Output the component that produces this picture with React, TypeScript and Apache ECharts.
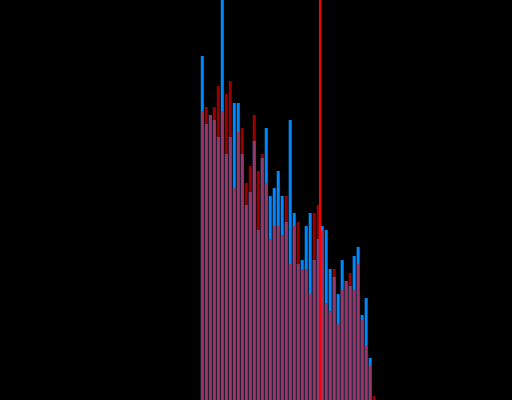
import React, { useEffect, useRef } from "react";
import * as echarts from "echarts";

// bin index of the first bar; bars occupy consecutive bins
const firstBin = 50;
const binCount = 128;
const markerPosition = 79.875;

const blueValues = [344, 276, 285, 280, 263, 405, 246, 263, 297, 297, 246, 195, 208, 259, 170, 242, 272, 204, 212, 229, 204, 178, 280, 187, 136, 140, 174, 187, 140, 161, 174, 170, 131, 123, 106, 140, 119, 114, 144, 153, 85, 102, 42, 0];
const redValues = [289, 293, 285, 293, 314, 289, 306, 319, 212, 268, 272, 217, 234, 285, 229, 246, 217, 161, 174, 174, 165, 204, 136, 174, 178, 131, 131, 106, 187, 195, 170, 97, 89, 131, 76, 110, 119, 127, 110, 136, 80, 55, 34, 4];

export default function App() {
  const ref = useRef<HTMLDivElement>(null);
  useEffect(() => {
    document.body.style.margin = "0";
    document.body.style.background = "#000";
    const chart = echarts.init(ref.current!, null, { renderer: "svg" });
    const pts = (vals: number[]) => vals.map((v, i) => [firstBin + i + 0.5, v]);
    chart.setOption({
      animation: false,
      backgroundColor: "#000",
      grid: { left: 0.5, right: -0.5, top: 0, bottom: 0 },
      xAxis: {
        type: "value",
        min: 0,
        max: binCount,
        show: false,
        splitLine: { show: false },
      },
      yAxis: {
        type: "value",
        min: 0,
        max: 400,
        show: false,
        splitLine: { show: false },
      },
      series: [
        {
          type: "bar",
          data: pts(blueValues),
          barWidth: 3,
          barGap: "-100%",
          itemStyle: { color: "#0088ff" },
        },
        {
          type: "bar",
          data: pts(redValues),
          barWidth: 3,
          barGap: "-100%",
          itemStyle: { color: "#ff0000", opacity: 0.6 },
        },
        {
          type: "line",
          data: [],
          z: 10,
          markLine: {
            silent: true,
            symbol: "none",
            label: { show: false },
            lineStyle: { color: "#ff0000", width: 2, type: "solid", opacity: 1 },
            data: [{ xAxis: markerPosition }],
          },
        },
      ],
    });
    return () => chart.dispose();
  }, []);
  return (
    <div
      ref={ref}
      style={{ position: "absolute", left: 0, top: 0, width: 512, height: 400, background: "#000" }}
    />
  );
}
